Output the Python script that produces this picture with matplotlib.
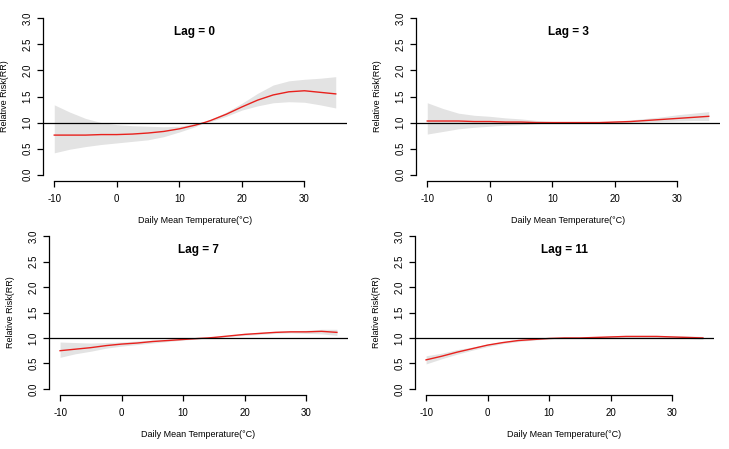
import matplotlib
matplotlib.use("Agg")
import matplotlib.pyplot as plt

plt.rcParams['font.family'] = ['Liberation Sans', 'DejaVu Sans']

# ---- data ----
temp = [-10, -7.5, -5, -2.5, 0, 2.5, 5, 7.5, 10, 12.5, 14, 15, 17.5, 20, 22.5, 25, 27.5, 30, 32.5, 35]

lag0_rr = [0.76, 0.76, 0.76, 0.77, 0.77, 0.78, 0.80, 0.83, 0.88, 0.95, 1.00, 1.04, 1.16, 1.30, 1.43, 1.53, 1.59, 1.61, 1.58, 1.55]
lag0_lo = [0.42, 0.49, 0.54, 0.58, 0.61, 0.64, 0.67, 0.73, 0.82, 0.92, 1.00, 1.02, 1.12, 1.24, 1.32, 1.38, 1.40, 1.39, 1.34, 1.28]
lag0_hi = [1.34, 1.20, 1.08, 1.00, 0.96, 0.94, 0.93, 0.92, 0.93, 0.98, 1.00, 1.06, 1.20, 1.37, 1.56, 1.72, 1.80, 1.83, 1.85, 1.88]

lag3_rr = [1.03, 1.03, 1.03, 1.02, 1.02, 1.01, 1.01, 1.00, 1.00, 1.00, 1.00, 1.00, 1.00, 1.01, 1.02, 1.04, 1.06, 1.08, 1.10, 1.12]
lag3_lo = [0.78, 0.83, 0.88, 0.91, 0.93, 0.95, 0.96, 0.98, 0.99, 1.00, 1.00, 1.00, 1.00, 1.00, 1.00, 1.01, 1.02, 1.03, 1.04, 1.04]
lag3_hi = [1.38, 1.27, 1.18, 1.14, 1.12, 1.09, 1.07, 1.04, 1.02, 1.01, 1.00, 1.00, 1.01, 1.03, 1.05, 1.08, 1.11, 1.15, 1.18, 1.21]

lag7_rr = [0.75, 0.78, 0.81, 0.85, 0.88, 0.90, 0.93, 0.95, 0.97, 0.99, 1.00, 1.01, 1.04, 1.07, 1.09, 1.11, 1.12, 1.12, 1.13, 1.11]
lag7_lo = [0.62, 0.69, 0.74, 0.80, 0.84, 0.87, 0.90, 0.93, 0.96, 0.98, 1.00, 1.00, 1.03, 1.05, 1.07, 1.09, 1.10, 1.09, 1.08, 1.05]
lag7_hi = [0.92, 0.91, 0.90, 0.91, 0.92, 0.94, 0.96, 0.97, 0.99, 1.00, 1.00, 1.02, 1.05, 1.09, 1.11, 1.13, 1.14, 1.15, 1.17, 1.17]

lag11_rr = [0.57, 0.64, 0.72, 0.79, 0.86, 0.91, 0.95, 0.97, 0.99, 1.00, 1.00, 1.00, 1.01, 1.02, 1.03, 1.03, 1.03, 1.02, 1.01, 1.00]
lag11_lo = [0.49, 0.59, 0.68, 0.76, 0.83, 0.89, 0.93, 0.96, 0.98, 0.99, 1.00, 1.00, 1.00, 1.01, 1.01, 1.01, 1.01, 1.00, 0.99, 0.97]
lag11_hi = [0.65, 0.70, 0.77, 0.82, 0.88, 0.93, 0.97, 0.99, 1.00, 1.00, 1.00, 1.01, 1.02, 1.04, 1.05, 1.05, 1.05, 1.04, 1.04, 1.03]

titles = ["Lag = 0", "Lag = 3", "Lag = 7", "Lag = 11"]
series = [(lag0_rr, lag0_lo, lag0_hi), (lag3_rr, lag3_lo, lag3_hi),
          (lag7_rr, lag7_lo, lag7_hi), (lag11_rr, lag11_lo, lag11_hi)]
xticks = [-10, 0, 10, 20, 30]
yticks = [0.0, 0.5, 1.0, 1.5, 2.0, 2.5, 3.0]

W, H = 729, 449
fig = plt.figure(figsize=(W / 100, H / 100), dpi=100)

# panel boxes in pixels: (left, top, right, bottom)
boxes = [(43, 12, 347, 181), (416, 12, 720, 181),
         (49, 230, 348, 395), (415, 230, 714, 395)]

for (l, t, r, b), title, (rr, lo, hi) in zip(boxes, titles, series):
    ax = fig.add_axes([l / W, (H - b) / H, (r - l) / W, (b - t) / H])
    ax.fill_between(temp, lo, hi, color='#e3e3e3', linewidth=0, zorder=1)
    ax.plot(temp, rr, color='#e8211d', linewidth=1.0, zorder=2)
    ax.axhline(1.0, color='black', linewidth=0.9, zorder=3)
    ax.set_xlim(-11.8, 36.8)
    ax.set_ylim(-0.12, 3.12)
    for s in ['top', 'right']:
        ax.spines[s].set_visible(False)
    ax.spines['left'].set_bounds(0, 3)
    ax.spines['bottom'].set_bounds(-10, 30)
    for s in ['left', 'bottom']:
        ax.spines[s].set_linewidth(0.9)
    ax.set_xticks(xticks)
    ax.set_xticklabels([str(v) for v in xticks])
    ax.set_yticks(yticks)
    ax.set_yticklabels([f"{v:.1f}" for v in yticks], rotation=90, va='center')
    ax.tick_params(axis='both', length=4, width=0.9, labelsize=7, colors='black')
    ax.tick_params(axis='x', pad=5.5)
    ax.tick_params(axis='y', pad=3.5)
    ax.set_xlabel("Daily Mean Temperature(°C)", fontsize=6.5)
    ax.set_ylabel("Relative Risk(RR)", fontsize=6.5)
    ax.xaxis.set_label_coords(0.5, -35 / (b - t))
    ax.yaxis.set_label_coords(-34 / (r - l), 0.5)
    ax.text(0.5, 1 - 20 / (b - t), title, transform=ax.transAxes,
            ha='center', va='center', fontsize=8.5, fontweight='bold')

fig.savefig("out.png", dpi=100)
